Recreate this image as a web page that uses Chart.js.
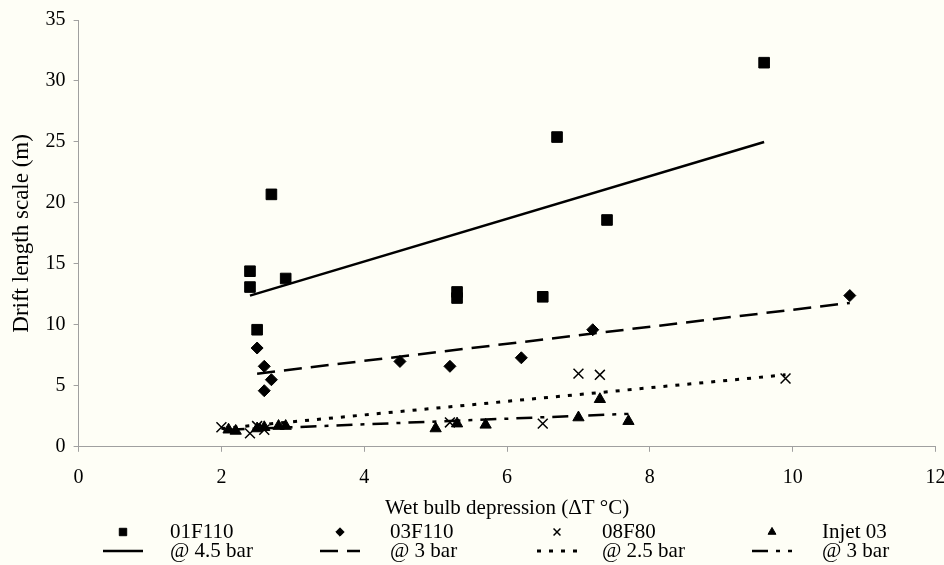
<!DOCTYPE html>
<html>
<head>
<meta charset="utf-8">
<script src="https://cdn.jsdelivr.net/npm/chart.js@4.4.1/dist/chart.umd.min.js"></script>
<style>
  html, body { margin: 0; padding: 0; background: #fefef6; }
</style>
</head>
<body>
<canvas id="driftChart" width="944" height="565"></canvas>
<script>
// series names shown in the legend
const seriesNames = ['01F110', '03F110', '08F80', 'Injet 03'];
const fitNames = ['@ 4.5 bar', '@ 3 bar', '@ 2.5 bar', '@ 3 bar'];

// measured points (x = wet bulb depression, y = drift length scale)
const x01F110 = [2.4, 2.4, 2.5, 2.7, 2.9, 5.3, 5.3, 6.5, 6.7, 7.4, 9.6];
const y01F110 = [14.4, 13.1, 9.6, 20.7, 13.8, 12.7, 12.2, 12.3, 25.4, 18.6, 31.5];

const x03F110 = [2.5, 2.6, 2.7, 2.6, 4.5, 5.2, 6.2, 7.2, 10.8];
const y03F110 = [8.1, 6.6, 5.5, 4.6, 7.0, 6.6, 7.3, 9.6, 12.4];

const x08F80 = [2.0, 2.4, 2.5, 2.6, 5.2, 6.5, 7.0, 7.3, 9.9];
const y08F80 = [1.6, 1.1, 1.7, 1.4, 2.0, 1.9, 6.0, 5.9, 5.6];

const xInjet = [2.1, 2.2, 2.5, 2.6, 2.8, 2.9, 5.0, 5.3, 5.7, 7.0, 7.3, 7.7];
const yInjet = [1.4, 1.3, 1.5, 1.6, 1.7, 1.7, 1.5, 1.9, 1.8, 2.4, 3.9, 2.1];

// fitted trend lines (end points)
const fit45X = [2.4, 9.6];
const fit45Y = [12.4, 25.0];
const fit3X = [2.5, 10.8];
const fit3Y = [6.0, 11.8];
const fit25X = [2.0, 9.9];
const fit25Y = [1.5, 5.9];
const fitInjX = [2.1, 7.7];
const fitInjY = [1.4, 2.7];

// axis ticks
const xTicks = [0, 2, 4, 6, 8, 10, 12];
const yTicks = [0, 5, 10, 15, 20, 25, 30, 35];

const pts = (xs, ys) => xs.map((x, i) => ({ x: x, y: ys[i] }));

const serif = "'Liberation Serif', 'Times New Roman', serif";
Chart.defaults.font.family = serif;
Chart.defaults.color = '#000';

const bgPlugin = {
    id: 'bg',
    beforeDraw(chart) {
        const c = chart.ctx;
        c.save();
        c.fillStyle = '#fefef6';
        c.fillRect(0, 0, chart.width, chart.height);
        c.restore();
    }
};

// two-row legend under the x axis title
const legendRows = {
    id: 'legendRows',
    afterDraw(chart) {
        const c = chart.ctx;
        const symX = [123, 340, 557, 772];
        const textX = [170, 390, 602, 822];
        const row1 = 532, row2 = 551;
        c.save();
        c.font = '21px ' + serif;
        c.textBaseline = 'middle';
        c.textAlign = 'left';
        for (let i = 0; i < 4; i++) {
            const m = chart.data.datasets[i];
            const l = chart.data.datasets[i + 4];
            c.fillStyle = '#000';
            c.strokeStyle = '#000';
            c.lineWidth = m.borderWidth;
            c.setLineDash([]);
            Chart.helpers.drawPoint(c, {
                pointStyle: m.pointStyle,
                radius: m.pointRadius * 0.7,
                borderWidth: m.pointStyle === 'crossRot' ? 1 : m.borderWidth,
                rotation: 0
            }, symX[i], row1);
            c.fillText(seriesNames[i], textX[i], row1);

            c.beginPath();
            c.lineWidth = l.borderWidth;
            c.setLineDash(l.borderDash || []);
            c.moveTo(symX[i] - 20, row2);
            c.lineTo(symX[i] + 20, row2);
            c.stroke();
            c.setLineDash([]);
            c.fillText(fitNames[i], textX[i], row2);
        }
        c.restore();
    }
};

const markerSet = (label, data, style, r) => ({
    type: 'scatter',
    label: label,
    data: data,
    pointStyle: style,
    pointRadius: r,
    pointHoverRadius: r,
    backgroundColor: '#000',
    borderColor: '#000',
    borderWidth: style === 'crossRot' ? 1.5 : 1,
    showLine: false
});

const lineSet = (label, data, dash, w) => ({
    type: 'line',
    label: label,
    data: data,
    borderColor: '#000',
    borderWidth: w,
    borderDash: dash,
    borderCapStyle: 'butt',
    pointRadius: 0,
    fill: false,
    tension: 0
});

const ctx = document.getElementById('driftChart').getContext('2d');

new Chart(ctx, {
    data: {
        datasets: [
            markerSet(seriesNames[0], pts(x01F110, y01F110), 'rect', 7.5),
            markerSet(seriesNames[1], pts(x03F110, y03F110), 'rectRot', 6),
            markerSet(seriesNames[2], pts(x08F80, y08F80), 'crossRot', 7),
            markerSet(seriesNames[3], pts(xInjet, yInjet), 'triangle', 6.5),
            lineSet(fitNames[0], pts(fit45X, fit45Y), [], 2.5),
            lineSet(fitNames[1], pts(fit3X, fit3Y), [18, 9], 2.5),
            lineSet(fitNames[2], pts(fit25X, fit25Y), [4, 8], 3),
            lineSet(fitNames[3], pts(fitInjX, fitInjY), [16, 8, 4, 8], 2.5)
        ]
    },
    options: {
        responsive: false,
        animation: false,
        layout: { padding: { top: 6, left: 8, right: 0, bottom: 44 } },
        plugins: {
            legend: { display: false },
            tooltip: { enabled: false }
        },
        scales: {
            x: {
                type: 'linear',
                min: 0,
                max: 12,
                afterBuildTicks: (s) => { s.ticks = xTicks.map(v => ({ value: v })); },
                afterFit: (s) => { s.paddingRight = 8; },
                border: { color: '#a0a0a0', width: 1 },
                grid: { drawOnChartArea: false, color: '#a0a0a0', tickLength: 5 },
                ticks: { font: { size: 20 }, padding: 14, maxRotation: 0 },
                title: {
                    display: true,
                    text: 'Wet bulb depression (\u0394T \u00B0C)',
                    font: { size: 21 },
                    padding: { top: -8, bottom: 0 }
                }
            },
            y: {
                type: 'linear',
                min: 0,
                max: 35,
                afterBuildTicks: (s) => { s.ticks = yTicks.map(v => ({ value: v })); },
                border: { color: '#a0a0a0', width: 1 },
                grid: { drawOnChartArea: false, color: '#a0a0a0', tickLength: 5 },
                ticks: { font: { size: 20 }, padding: 8 },
                title: {
                    display: true,
                    text: 'Drift length scale (m)',
                    font: { size: 23 },
                    padding: { top: 0, bottom: 2 }
                }
            }
        }
    },
    plugins: [bgPlugin, legendRows]
});
</script>
</body>
</html>
